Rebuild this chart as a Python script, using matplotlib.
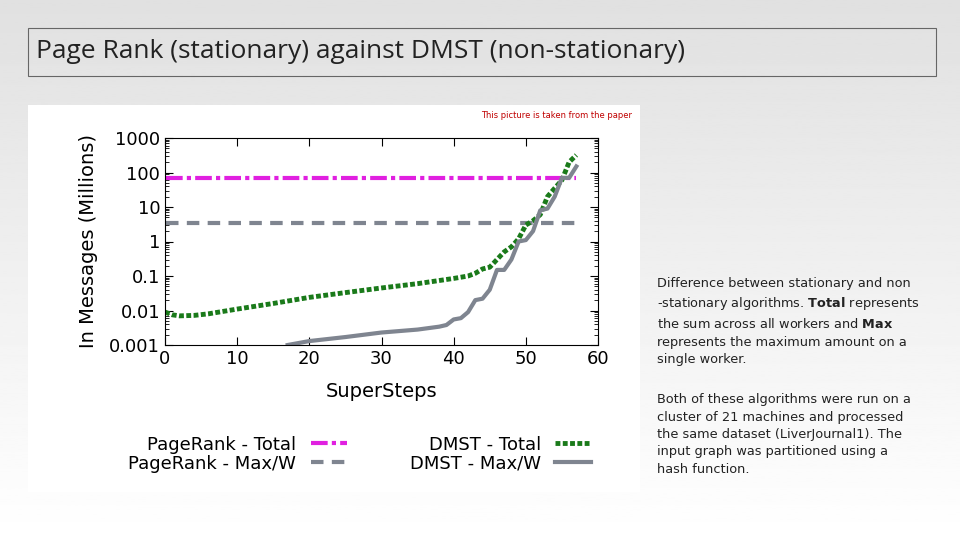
import numpy as np
import matplotlib.pyplot as plt
from matplotlib.patches import Rectangle

pr_total = 70
pr_max = 3.5
dmst_total_x = [0, 1, 2, 4, 6, 10, 15, 20, 25, 30, 35, 40, 42, 43, 44, 45, 46, 47, 48, 49, 50, 51, 52, 53, 54, 55, 56, 57]
dmst_total_y = [0.009, 0.0075, 0.007, 0.0072, 0.008, 0.011, 0.016, 0.024, 0.033, 0.045, 0.06, 0.085, 0.1, 0.12, 0.16, 0.18, 0.3, 0.5, 0.7, 1.2, 3.0, 4.0, 6.0, 20, 35, 60, 200, 320]
dmst_max_x = [17, 20, 25, 30, 35, 38, 39, 40, 41, 42, 43, 44, 45, 46, 47, 48, 49, 50, 51, 52, 53, 54, 55, 56, 57]
dmst_max_y = [0.001, 0.0013, 0.0017, 0.0023, 0.0028, 0.0034, 0.0038, 0.0055, 0.006, 0.009, 0.02, 0.022, 0.04, 0.15, 0.15, 0.3, 1.0, 1.1, 2.0, 8.0, 9.0, 20, 70, 70, 150]

fig = plt.figure(figsize=(9.6, 5.4), dpi=100)
bg = fig.add_axes([0, 0, 1, 1], zorder=-10)
grad = np.linspace(0.88, 1.0, 256).reshape(-1, 1)
bg.imshow(grad, cmap='gray', vmin=0, vmax=1, aspect='auto', extent=[0, 1, 0, 1])
bg.set_xlim(0, 1); bg.set_ylim(0, 1); bg.axis('off')
bg.add_patch(Rectangle((28/960, 1-76/540), 908/960, 48/540, facecolor='none', edgecolor='#666666', lw=0.8))
bg.text(36/960, 1-52/540, "Page Rank (stationary) against DMST (non-stationary)", fontsize=19, va='center', color='#222222', family='Open Sans')
bg.add_patch(Rectangle((28/960, 1-492/540), 612/960, 387/540, facecolor='white', edgecolor='none'))
bg.text(632/960, 1-115/540, "This picture is taken from the paper", fontsize=6, color='#c00000', ha='right', va='center')
txt1 = ("Difference between stationary and non\n-stationary algorithms. $\\bf{Total}$ represents\n"
        "the sum across all workers and $\\bf{Max}$\nrepresents the maximum amount on a\nsingle worker.")
txt2 = ("Both of these algorithms were run on a\ncluster of 21 machines and processed\n"
        "the same dataset (LiverJournal1). The\ninput graph was partitioned using a\nhash function.")
bg.text(657/960, 1-277/540, txt1, fontsize=9.3, va='top', linespacing=1.45, color='#222222')
bg.text(657/960, 1-393/540, txt2, fontsize=9.3, va='top', linespacing=1.45, color='#222222')

ax = fig.add_axes([165/960, 1-345/540, 433/960, 207/540])
ax.axhline(pr_total, xmin=0.2/60, xmax=57/60, color='#e020e0', lw=3, ls=(0, (4, 1, 1, 1)), label='PageRank - Total')
ax.axhline(pr_max, xmin=0.2/60, xmax=57/60, color='#7f8590', lw=3, ls=(0, (3, 2)), label='PageRank - Max/W')
ax.plot(dmst_total_x, dmst_total_y, color='#1a7a1a', lw=3.5, ls=(0, (1, 0.5)), label='DMST - Total')
ax.plot(dmst_max_x, dmst_max_y, color='#7f8590', lw=3, label='DMST - Max/W')
ax.set_yscale('log')
ax.set_ylim(0.001, 1000)
ax.set_xlim(0, 60)
ax.set_xticks(range(0, 61, 10))
ax.set_yticks([0.001, 0.01, 0.1, 1, 10, 100, 1000])
ax.set_yticklabels(['0.001', '0.01', '0.1', '1', '10', '100', '1000'])
ax.tick_params(labelsize=13, direction='in', top=True, right=True, length=6)
ax.tick_params(which='minor', direction='in', right=True, length=3)
ax.set_xlabel('SuperSteps', fontsize=14, labelpad=10)
ax.set_ylabel('In Messages (Millions)', fontsize=14, labelpad=8)
ax.legend(ncol=2, loc='upper center', bbox_to_anchor=(0.45, -0.36), frameon=False, fontsize=13,
          markerfirst=False, handlelength=2, columnspacing=3.5, labelspacing=0.05)
fig.savefig('out.png', dpi=100)
